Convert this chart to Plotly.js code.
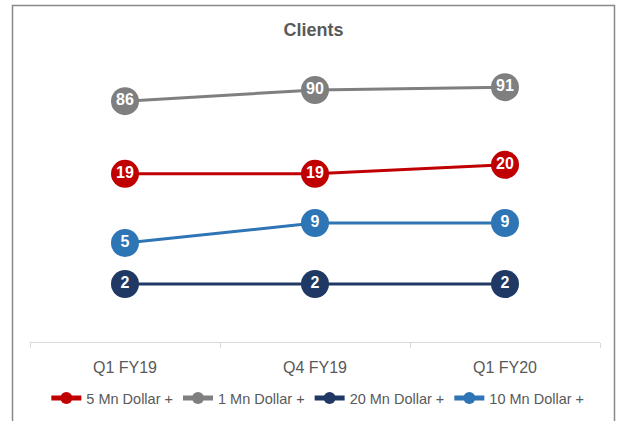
<!DOCTYPE html>
<html>
<head>
<meta charset="utf-8">
<script src="https://cdn.plot.ly/plotly-3.0.1.min.js"></script>
<style>html,body{margin:0;padding:0;background:#fff;}#chart{width:621px;height:421px;}</style>
</head>
<body>
<div id="chart"></div>
<script>
// Data
var categories = ["Q1 FY19", "Q4 FY19", "Q1 FY20"];
var seriesNames = ["5 Mn Dollar +", "1 Mn Dollar +", "20 Mn Dollar +", "10 Mn Dollar +"];
var fiveMn = [19, 19, 20];
var oneMn = [86, 90, 91];
var twentyMn = [2, 2, 2];
var tenMn = [5, 9, 9];

var FONT = "Liberation Sans, Arial, sans-serif";

function mk(name, vals, color, yaxis) {
  return {
    type: "scatter",
    mode: "lines+markers+text",
    name: name,
    x: categories,
    y: vals,
    yaxis: yaxis,
    text: vals.map(String),
    textposition: "middle center",
    textfont: {family: FONT, size: 16, color: "#ffffff", weight: "bold"},
    line: {color: color, width: 3},
    marker: {color: color, size: 28},
    cliponaxis: false,
    hoverinfo: "x+y+name"
  };
}

var traces = [
  mk(seriesNames[0], fiveMn, "#C00000", "y2"),
  mk(seriesNames[1], oneMn, "#7F7F7F", "y"),
  mk(seriesNames[2], twentyMn, "#203864", "y4"),
  mk(seriesNames[3], tenMn, "#2E75B6", "y3")
];

var hiddenAxis = function (range) {
  return {range: range, visible: false, showgrid: false, zeroline: false, fixedrange: true};
};

var layout = {
  width: 621,
  height: 421,
  margin: {l: 30, r: 21, t: 55, b: 79, autoexpand: false},
  paper_bgcolor: "#ffffff",
  plot_bgcolor: "#ffffff",
  showlegend: true,
  title: {
    text: "<b>Clients</b>",
    font: {family: FONT, size: 18, color: "#595959"},
    x: 0.505, xanchor: "center",
    y: 1 - 30 / 421, yanchor: "middle", yref: "container"
  },
  xaxis: {
    type: "category",
    range: [-0.5, 2.5],
    showline: true,
    linecolor: "#D9D9D9",
    linewidth: 1,
    ticks: "outside",
    tickson: "boundaries",
    ticklen: 5,
    tickcolor: "#D9D9D9",
    showgrid: false,
    zeroline: false,
    automargin: false,
    ticklabelstandoff: 11,
    tickfont: {family: FONT, size: 16, color: "#595959"}
  },
  yaxis: hiddenAxis([0, 102.5]),
  yaxis2: Object.assign(hiddenAxis([0.33, 32.2]), {overlaying: "y"}),
  yaxis3: Object.assign(hiddenAxis([-14.8, 42.6]), {overlaying: "y"}),
  yaxis4: Object.assign(hiddenAxis([0, 9.9]), {overlaying: "y"}),
  legend: {
    orientation: "h",
    x: 0.505, xanchor: "center",
    xref: "paper",
    y: 1 - 398 / 421, yanchor: "middle", yref: "container",
    font: {family: FONT, size: 14.5, color: "#595959"},
    itemsizing: "constant",
    itemwidth: 30,
    traceorder: "normal",
    tracegroupgap: 0,
    bgcolor: "rgba(0,0,0,0)"
  },
  shapes: [{
    type: "rect", xref: "paper", yref: "paper",
    x0: (12.5 - 30) / 570, x1: (614.5 - 30) / 570,
    y0: (342 - 440) / 287, y1: (342 - 5.5) / 287,
    line: {color: "#898989", width: 1.5},
    fillcolor: "rgba(0,0,0,0)",
    layer: "below"
  }]
};

Plotly.newPlot("chart", traces, layout, {displayModeBar: false, staticPlot: true});
</script>
</body>
</html>
